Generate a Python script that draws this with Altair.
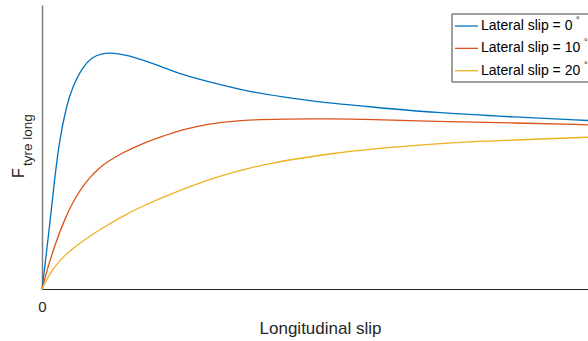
import altair as alt
import pandas as pd

# Longitudinal tyre force against longitudinal slip, for three lateral slip angles
# (slip and force both normalised to the plotted range)
slip_0 = [0.0, 0.0046, 0.0138, 0.0229, 0.0321, 0.0444, 0.0559, 0.0742, 0.0926, 0.1085,
          0.1237, 0.1549, 0.1842, 0.2154, 0.2576, 0.3199, 0.3804, 0.4409, 0.5032, 0.6004,
          0.7213, 0.8570, 1.0]
force_0 = [0.0, 0.0685, 0.2197, 0.3849, 0.5255, 0.6415, 0.7118, 0.7821, 0.8172, 0.8278,
           0.8323, 0.8243, 0.8067, 0.7856, 0.7540, 0.7223, 0.6942, 0.6766, 0.6591, 0.6415,
           0.6204, 0.6063, 0.5933]

slip_10 = [0.0, 0.0137, 0.0284, 0.0422, 0.0559, 0.0715, 0.0871, 0.1026, 0.1182, 0.1476,
           0.1787, 0.2154, 0.2576, 0.3016, 0.3621, 0.4409, 0.5270, 0.6004, 0.7213, 0.8570,
           1.0]
force_10 = [0.0, 0.0967, 0.1810, 0.2478, 0.3040, 0.3533, 0.3919, 0.4218, 0.4464, 0.4798,
            0.5079, 0.5343, 0.5613, 0.5807, 0.5944, 0.5990, 0.5993, 0.5976, 0.5898, 0.5852,
            0.5782]

slip_20 = [0.0, 0.0046, 0.0137, 0.0266, 0.0412, 0.0559, 0.0871, 0.1182, 0.1476, 0.1787,
           0.2392, 0.3016, 0.3621, 0.4225, 0.4720, 0.5325, 0.6004, 0.7213, 0.8570, 1.0]
force_20 = [0.0, 0.0183, 0.0527, 0.0861, 0.1178, 0.1424, 0.1863, 0.2232, 0.2559, 0.2875,
            0.3374, 0.3831, 0.4183, 0.4439, 0.4601, 0.4777, 0.4921, 0.5128, 0.5244, 0.5343]

series_names = ["Lateral slip = 0", "Lateral slip = 10", "Lateral slip = 20"]
series_colors = ["#0072BD", "#D95319", "#EDB120"]
x_tick_values = [0]

rows = []
for name, xs, ys in zip(series_names, [slip_0, slip_10, slip_20], [force_0, force_10, force_20]):
    for i, (sx, fy) in enumerate(zip(xs, ys)):
        rows.append({"series": name, "slip": sx, "force": fy, "order": i})
curves = pd.DataFrame(rows)

W, H = 546, 284
FONT = "Liberation Sans"
INK = "#262626"

color_scale = alt.Scale(domain=series_names, range=series_colors)

lines = alt.Chart(curves).mark_line(strokeWidth=1.3, interpolate="basis").encode(
    x=alt.X(
        "slip:Q",
        scale=alt.Scale(domain=[0, 1], nice=False),
        axis=alt.Axis(
            values=x_tick_values, ticks=False, grid=False,
            domainColor=INK, domainWidth=1,
            labelFont=FONT, labelFontSize=15, labelColor=INK,
            labelFlush=False, labelAlign="center",
            labelBaseline="alphabetic", labelPadding=22,
            title="Longitudinal slip", titleFont=FONT, titleFontSize=17,
            titleFontWeight="normal", titleColor=INK,
            titleX=278, titleY=44, titleBaseline="alphabetic", titleAlign="center",
        ),
    ),
    y=alt.Y(
        "force:Q",
        scale=alt.Scale(domain=[0, 1], nice=False),
        axis=alt.Axis(labels=False, ticks=False, grid=False, title=None,
                      domainColor="#7f7f7f", domainWidth=1.5),
    ),
    color=alt.Color("series:N", scale=color_scale, legend=None),
    order="order:Q",
)

# y-axis title: F with a "tyre long" subscript
one = pd.DataFrame({"k": [0]})
y_main = alt.Chart(one).mark_text(
    text="F", font=FONT, fontSize=16, color=INK, angle=270,
    align="left", baseline="alphabetic",
).encode(x=alt.value(-18.5), y=alt.value(173))
y_sub = alt.Chart(one).mark_text(
    text="tyre long", font=FONT, fontSize=13.5, color=INK, angle=270,
    align="left", baseline="alphabetic",
).encode(x=alt.value(-10), y=alt.value(161))

# legend box in the upper right corner
LEG_X, LEG_Y, ROW = 410, 9, 22.35
legend_box = alt.Chart(one).mark_rect(
    fill="white", stroke="#404040", strokeWidth=1,
).encode(x=alt.value(LEG_X), x2=alt.value(LEG_X + 160),
         y=alt.value(LEG_Y), y2=alt.value(LEG_Y + 68))

leg = pd.DataFrame({"series": series_names, "row": [0, 1, 2]})
leg["ly"] = LEG_Y + 12 + leg["row"] * ROW
leg["lx0"] = LEG_X + 3
leg["lx1"] = LEG_X + 26
leg["tx"] = LEG_X + 29
leg["dx"] = [LEG_X + 124, LEG_X + 132, LEG_X + 132]
leg["dy"] = leg["ly"] - 6

leg_lines = alt.Chart(leg).mark_rule(strokeWidth=1.3).encode(
    x=alt.X("lx0:Q", scale=None), x2="lx1:Q",
    y=alt.Y("ly:Q", scale=None),
    color=alt.Color("series:N", scale=color_scale, legend=None),
)
leg_text = alt.Chart(leg).mark_text(
    font=FONT, fontSize=14, color="black", align="left", baseline="middle",
).encode(x=alt.X("tx:Q", scale=None), y=alt.Y("ly:Q", scale=None), text="series:N")
leg_deg = alt.Chart(leg).mark_text(
    text="°", font=FONT, fontSize=9, color="black", align="left", baseline="middle",
).encode(x=alt.X("dx:Q", scale=None), y=alt.Y("dy:Q", scale=None))

chart = alt.layer(
    lines, y_main, y_sub, legend_box, leg_lines, leg_text, leg_deg
).properties(
    width=W, height=H,
    padding={"left": 42, "top": 5, "right": 0, "bottom": 52},
    autosize=alt.AutoSizeParams(type="none"),
).configure_view(stroke=None)

chart.save("out.html", embed_options={"renderer": "svg", "actions": False})
